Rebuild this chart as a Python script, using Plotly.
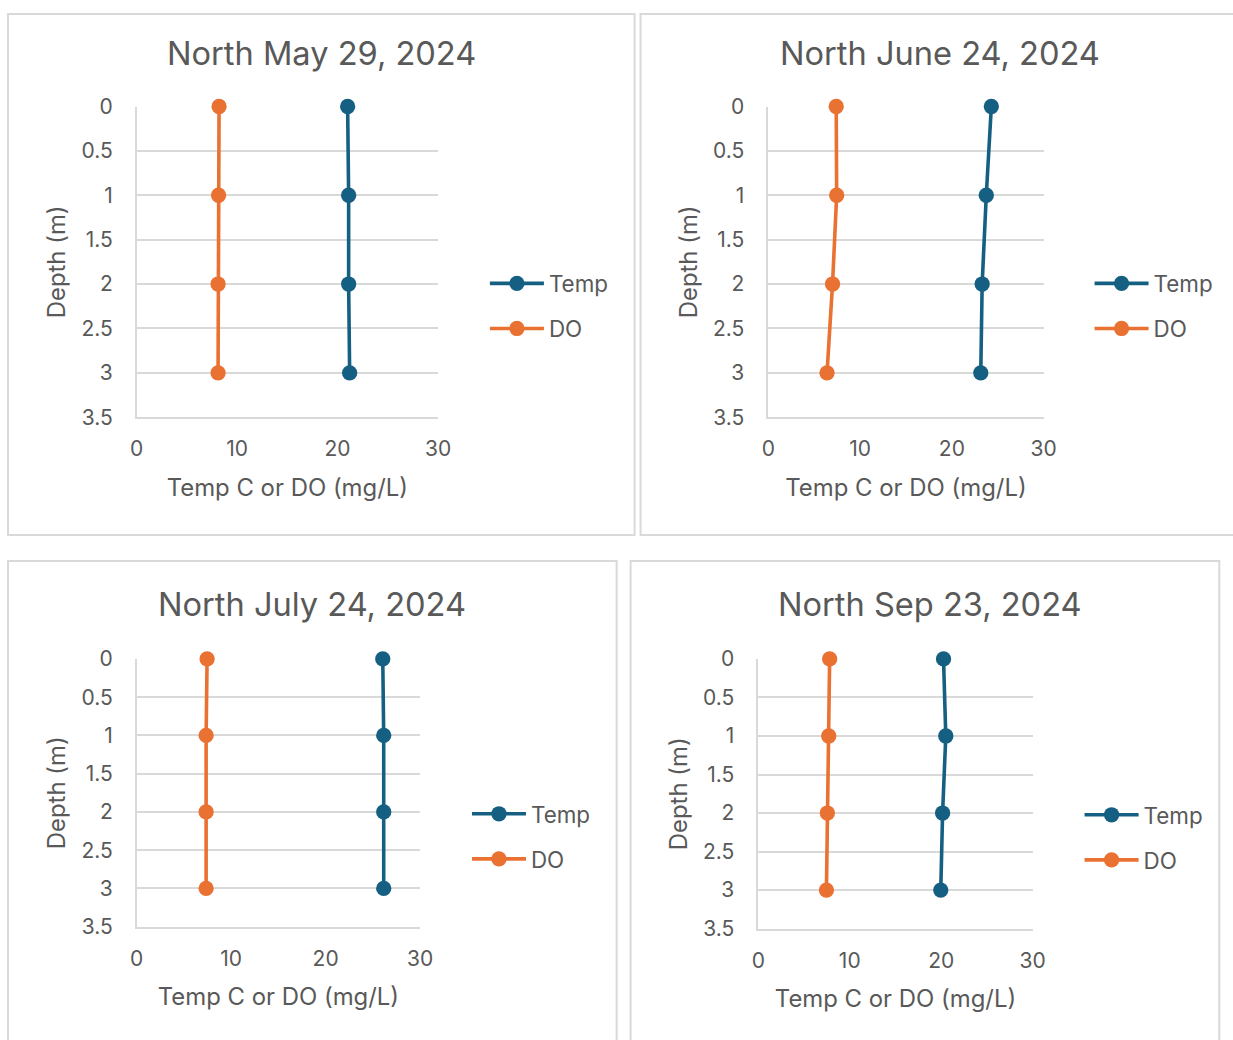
import plotly.graph_objects as go

W, H = 1233, 1040

# depth profiles (m) for each sampling date
depth = [0, 1, 2, 3]
chart_titles = ["North May 29, 2024", "North June 24, 2024",
                "North July 24, 2024", "North Sep 23, 2024"]
temp_may = [21.0, 21.1, 21.1, 21.2]
do_may = [8.2, 8.15, 8.1, 8.1]
temp_jun = [24.3, 23.75, 23.3, 23.15]
do_jun = [7.4, 7.45, 7.0, 6.4]
temp_jul = [26.05, 26.15, 26.15, 26.15]
do_jul = [7.45, 7.35, 7.35, 7.35]
temp_sep = [20.25, 20.5, 20.15, 19.95]
do_sep = [7.8, 7.7, 7.55, 7.45]
x_ticks = [0, 10, 20, 30]
y_ticks = [0, 0.5, 1, 1.5, 2, 2.5, 3, 3.5]
series_names = ["Temp", "DO"]

temps = [temp_may, temp_jun, temp_jul, temp_sep]
dos = [do_may, do_jun, do_jul, do_sep]

TEMP_COLOR = "#156082"
DO_COLOR = "#E97132"
TEXT = "#595959"
GRID = "#d9d9d9"
FONT = "Inter"

# layout grid in screen pixels: plot box, outer frame, title centre, legend origin
panels = [
    dict(plot=(135, 437, 106, 417), frame=(6, 634, 13.4, 535), title=(320, 52), legend=(484, 306)),
    dict(plot=(768, 1044, 106, 417), frame=(640, 1260, 13.4, 535), title=(940, 52), legend=(1090, 306)),
    dict(plot=(135, 419, 659, 927), frame=(6, 616, 561, 1060), title=(311, 604), legend=(466, 837)),
    dict(plot=(758, 1033, 659, 929), frame=(630, 1220, 561, 1060), title=(930, 604), legend=(1080, 838)),
]

# screen -> figure pixel mapping
SX, OX = 0.986, 5.0
SY, OY = 0.977, 12.4


def px(x):
    return (x - OX) / SX / W


def py(y):
    return 1 - (y - OY) / SY / H


fig = go.Figure()
layout = dict(shapes=[], annotations=[])

for i, p in enumerate(panels):
    n = "" if i == 0 else str(i + 1)
    lg = "legend" if i == 0 else f"legend{i + 1}"
    xa, ya = f"x{n}", f"y{n}"
    for name, vals, col in ((series_names[0], temps[i], TEMP_COLOR),
                            (series_names[1], dos[i], DO_COLOR)):
        fig.add_trace(go.Scatter(
            x=vals, y=depth, name=name, mode="lines+markers",
            line=dict(color=col, width=3.6),
            marker=dict(color=col, size=15.3),
            xaxis=xa, yaxis=ya, legend=lg, legendgroup=f"{name}{i}",
            cliponaxis=False,
        ))
    x0, x1, y0, y1 = p["plot"]
    layout[f"xaxis{n}"] = dict(
        domain=[px(x0), px(x1)], anchor=ya, range=[0, 30], tickvals=x_ticks,
        showgrid=False, zeroline=False, showline=True, linecolor=GRID, linewidth=1.5,
        ticks="", ticklabelstandoff=12,
        tickfont=dict(family=FONT, size=21, color=TEXT),
        title=dict(text="Temp C or DO (mg/L)", standoff=19,
                   font=dict(family=FONT, size=23.9, color=TEXT)),
    )
    layout[f"yaxis{n}"] = dict(
        domain=[py(y1), py(y0)], anchor=xa, range=[3.5, 0], tickvals=y_ticks,
        showgrid=True, gridcolor=GRID, gridwidth=1.5, zeroline=False,
        showline=True, linecolor=GRID, linewidth=1.5,
        ticks="", ticklabelstandoff=18,
        tickfont=dict(family=FONT, size=21, color=TEXT),
        title=dict(text="Depth (m)", standoff=9,
                   font=dict(family=FONT, size=23.9, color=TEXT)),
    )
    fx0, fx1, fy0, fy1 = p["frame"]
    layout["shapes"].append(dict(
        type="rect", xref="paper", yref="paper",
        x0=px(fx0), x1=px(fx1), y0=py(fy1), y1=py(fy0),
        line=dict(color=GRID, width=2), layer="below",
    ))
    tx, ty = p["title"]
    layout["annotations"].append(dict(
        text=chart_titles[i], xref="paper", yref="paper", x=px(tx), y=py(ty),
        xanchor="center", yanchor="middle", showarrow=False,
        font=dict(family=FONT, size=32.6, color=TEXT),
    ))
    lx, ly = p["legend"]
    layout[lg] = dict(
        x=px(lx), y=py(ly), xanchor="left", yanchor="middle",
        bgcolor="rgba(0,0,0,0)", borderwidth=0, itemwidth=54,
        tracegroupgap=13, font=dict(family=FONT, size=22.4, color=TEXT),
    )

fig.update_layout(
    width=W, height=H, margin=dict(l=0, r=0, t=0, b=0),
    paper_bgcolor="white", plot_bgcolor="white",
    font=dict(family=FONT, color=TEXT),
    **layout,
)

fig.write_html("out.html")
